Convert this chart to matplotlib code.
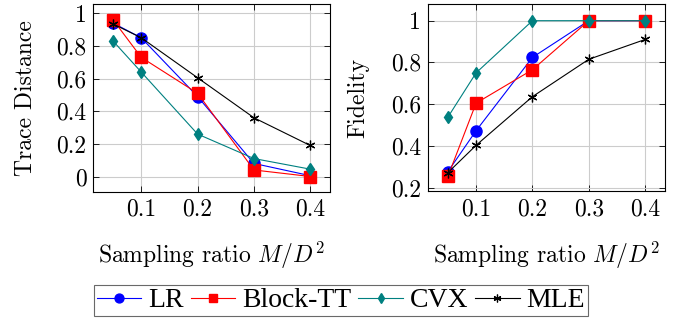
import matplotlib.pyplot as plt

plt.rcParams['font.family'] = 'serif'
plt.rcParams['font.serif'] = ['cmr10']
plt.rcParams['mathtext.fontset'] = 'cm'
plt.rcParams['axes.formatter.use_mathtext'] = True

ratios = [0.05, 0.1, 0.2, 0.3, 0.4]
methods = ['LR', 'Block-TT', 'CVX', 'MLE']

trace_lr = [0.94, 0.85, 0.49, 0.08, 0.005]
trace_tt = [0.96, 0.73, 0.51, 0.04, 0.0]
trace_cvx = [0.83, 0.64, 0.26, 0.11, 0.045]
trace_mle = [0.935, 0.85, 0.605, 0.36, 0.19]

fid_lr = [0.277, 0.473, 0.824, 1.0, 1.0]
fid_tt = [0.254, 0.605, 0.765, 1.0, 1.0]
fid_cvx = [0.538, 0.75, 1.0, 1.0, 1.0]
fid_mle = [0.272, 0.403, 0.636, 0.815, 0.91]

styles = {
    'LR': dict(color='blue', marker='o', ms=8),
    'Block-TT': dict(color='red', marker='s', ms=8),
    'CVX': dict(color=(0, 0.5, 0.5), marker='d', ms=6),
    'MLE': dict(color='black', marker=(6, 2, 0), ms=7, mew=0.9),
}

fig = plt.figure(figsize=(6.94, 3.27), dpi=100)
ax1 = fig.add_axes([0.1345, 0.4138, 0.341, 0.574])
ax2 = fig.add_axes([0.617, 0.4159, 0.341, 0.5719])

def draw(ax, series, ylim, yticks, ylabel, lpad):
    for name, ys in zip(methods, series):
        st = dict(styles[name])
        ax.plot(ratios, ys, lw=0.8, label=name, zorder=3, **st)
    ax.set_xlim(0.015, 0.435)
    ax.set_ylim(*ylim)
    ax.set_xticks([0.1, 0.2, 0.3, 0.4])
    ax.set_xticklabels(['0.1', '0.2', '0.3', '0.4'])
    ax.set_yticks(yticks)
    ax.set_yticklabels(['1' if t == 1 else ('0' if t == 0 else '%.1f' % t) for t in yticks])
    ax.grid(True, color='#cccccc', lw=0.8)
    ax.tick_params(direction='in', top=True, right=True, labelsize=17, length=4, width=0.6, pad=5)
    for s in ax.spines.values():
        s.set_linewidth(0.8)
    ax.set_ylabel(ylabel, fontsize=17, labelpad=lpad)
    ax.set_xlabel(r'Sampling ratio $M/D^2$', fontsize=17, labelpad=14)

draw(ax1, [trace_lr, trace_tt, trace_cvx, trace_mle], (-0.093, 1.057),
     [0, 0.2, 0.4, 0.6, 0.8, 1.0], 'Trace Distance', 14)
draw(ax2, [fid_lr, fid_tt, fid_cvx, fid_mle], (0.184, 1.08),
     [0.2, 0.4, 0.6, 0.8, 1.0], 'Fidelity', 16)

handles, labels = ax1.get_legend_handles_labels()
leg = fig.legend(handles, labels, loc='center', bbox_to_anchor=(0.4914, 0.081), ncol=4,
                 prop={'family': 'Liberation Serif', 'size': 20}, frameon=True,
                 fancybox=False, edgecolor='#444444',
                 handlelength=1.6, handletextpad=0.25, columnspacing=0.25,
                 borderpad=0.1, borderaxespad=0, markerscale=0.8)
leg.get_frame().set_linewidth(0.8)

fig.savefig('out.png', dpi=100)
